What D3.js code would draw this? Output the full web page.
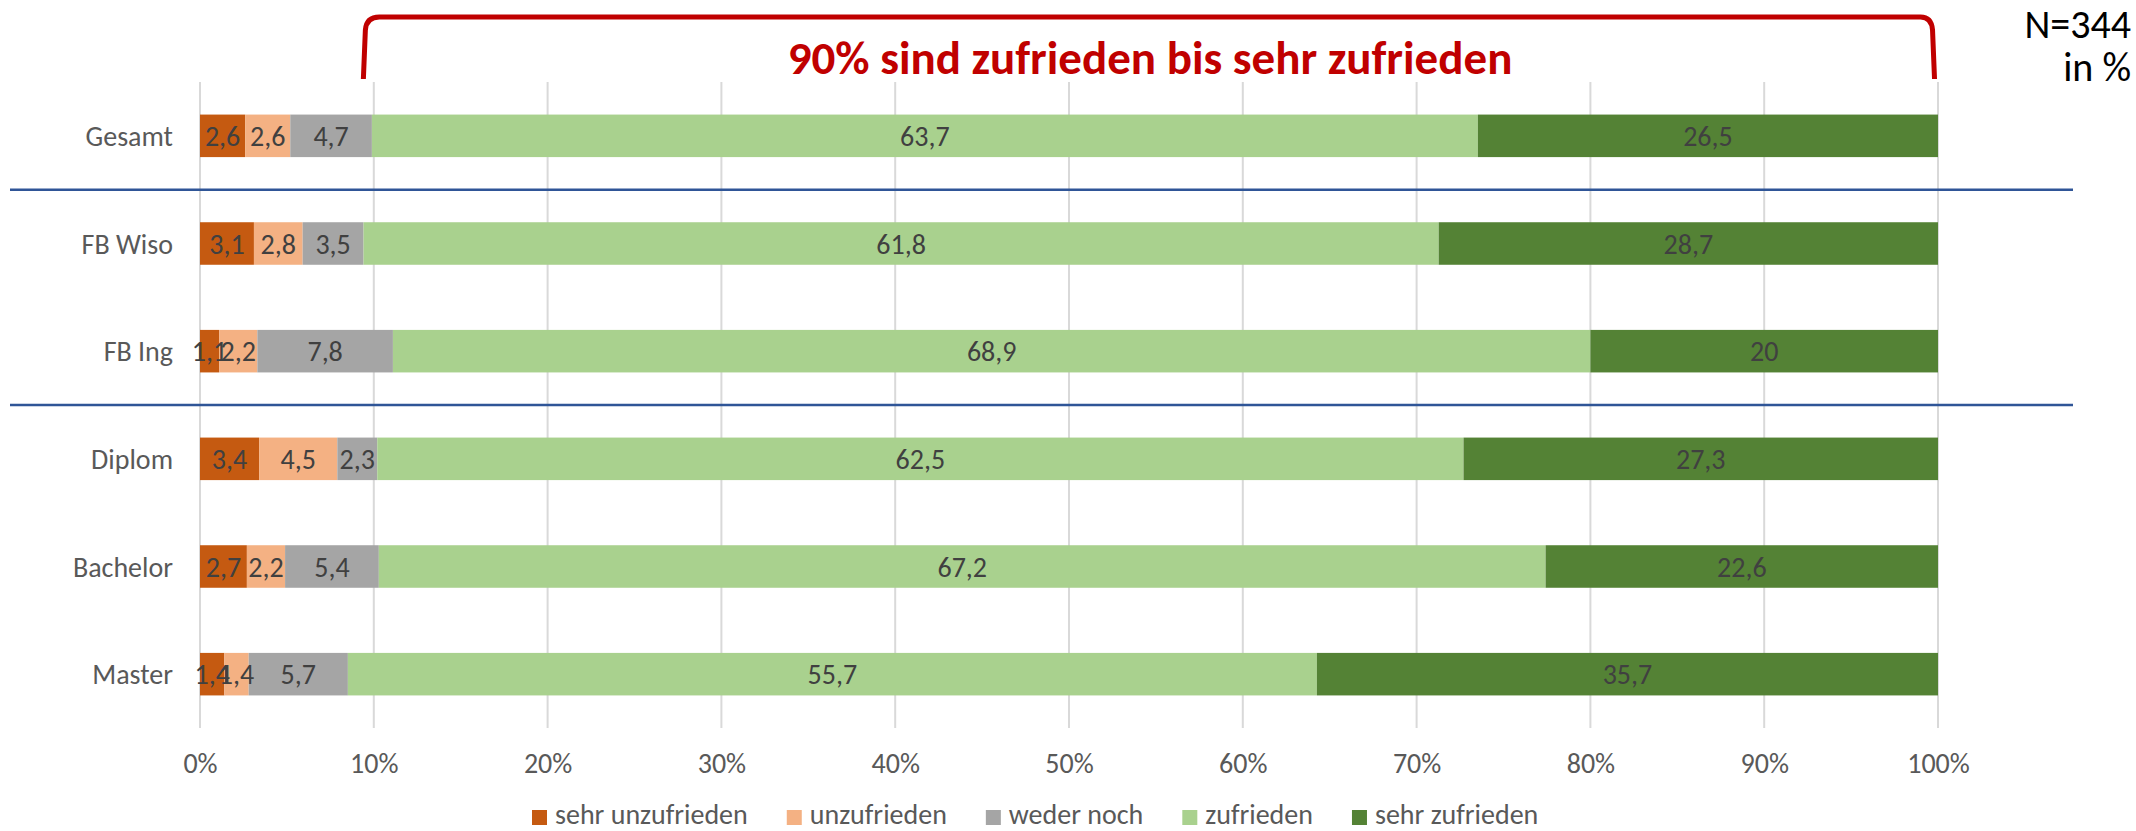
<!DOCTYPE html>
<html>
<head>
<meta charset="utf-8">
<script src="https://cdn.jsdelivr.net/npm/d3@7/dist/d3.min.js"></script>
<style>
  html, body { margin: 0; padding: 0; background: #fff; }
  svg { display: block; }
  text { font-family: Carlito, Lato, "Open Sans", sans-serif; }
</style>
</head>
<body>
<svg id="chart" width="2136" height="831"></svg>
<script>
const categories = ["Gesamt", "FB Wiso", "FB Ing", "Diplom", "Bachelor", "Master"];
const seriesNames = ["sehr unzufrieden", "unzufrieden", "weder noch", "zufrieden", "sehr zufrieden"];
const sehrUnzufrieden = [2.6, 3.1, 1.1, 3.4, 2.7, 1.4];
const unzufrieden     = [2.6, 2.8, 2.2, 4.5, 2.2, 1.4];
const wederNoch       = [4.7, 3.5, 7.8, 2.3, 5.4, 5.7];
const zufrieden       = [63.7, 61.8, 68.9, 62.5, 67.2, 55.7];
const sehrZufrieden   = [26.5, 28.7, 20, 27.3, 22.6, 35.7];
const tickValues = [0, 0.1, 0.2, 0.3, 0.4, 0.5, 0.6, 0.7, 0.8, 0.9, 1.0];
const separatorsAfter = ["Gesamt", "FB Ing"];
const titleText = "90% sind zufrieden bis sehr zufrieden";
const noteLines = ["N=344", "in %"];

const colors = ["#C55A11", "#F4B183", "#A5A5A5", "#A9D18E", "#548235"];
const seriesValues = [sehrUnzufrieden, unzufrieden, wederNoch, zufrieden, sehrZufrieden];

const rows = categories.map((c, i) => {
  const o = { cat: c };
  seriesNames.forEach((s, j) => o[s] = seriesValues[j][i]);
  return o;
});
const stacked = d3.stack().keys(seriesNames).offset(d3.stackOffsetExpand)(rows);

const svg = d3.select("#chart");
const x = d3.scaleLinear().domain([0, 1]).range([200, 1938]);
const y = d3.scaleBand().domain(categories).range([82, 728]).paddingInner(0.605).paddingOuter(0.3025);

// gridlines
svg.append("g").selectAll("line").data(tickValues).join("line")
  .attr("x1", d => x(d)).attr("x2", d => x(d))
  .attr("y1", 82).attr("y2", 728)
  .attr("stroke", "#d9d9d9").attr("stroke-width", 2);

// separator lines
separatorsAfter.forEach(c => {
  const i = categories.indexOf(c);
  const yy = (y(categories[i]) + y.bandwidth() + y(categories[i + 1])) / 2;
  svg.append("line").attr("x1", 10).attr("x2", 2073).attr("y1", yy).attr("y2", yy)
    .attr("stroke", "#2F5597").attr("stroke-width", 2.5);
});

// bars
const layers = svg.append("g").selectAll("g").data(stacked).join("g")
  .attr("fill", (d, i) => colors[i]);
layers.selectAll("rect").data(d => d).join("rect")
  .attr("x", d => x(d[0]))
  .attr("width", d => x(d[1]) - x(d[0]))
  .attr("y", d => y(d.data.cat))
  .attr("height", y.bandwidth());

// data labels
const fmt = v => String(v).replace(".", ",");
stacked.forEach((layer, j) => {
  svg.append("g").selectAll("text").data(layer).join("text")
    .attr("x", d => (x(d[0]) + x(d[1])) / 2)
    .attr("y", d => y(d.data.cat) + y.bandwidth() / 2 + 10)
    .attr("text-anchor", "middle")
    .attr("font-size", 28)
    .attr("fill", "#404040")
    .text(d => fmt(d.data[layer.key]));
});

// category labels
svg.append("g").selectAll("text").data(categories).join("text")
  .attr("x", 173)
  .attr("y", d => y(d) + y.bandwidth() / 2 + 10)
  .attr("text-anchor", "end")
  .attr("font-size", 28)
  .attr("fill", "#595959")
  .text(d => d);

// x axis tick labels
const xAxis = d3.axisBottom(x).tickValues(tickValues).tickFormat(d3.format(".0%")).tickSize(0).tickPadding(0);
const ax = svg.append("g").attr("transform", "translate(0,753)").call(xAxis);
ax.select(".domain").remove();
ax.selectAll("text").attr("font-size", 28).attr("fill", "#595959")
  .attr("font-family", "Carlito, Lato, sans-serif").attr("dy", "0.71em");

// legend
const leg = svg.append("g");
let lx = 532;
seriesNames.forEach((s, i) => {
  leg.append("rect").attr("x", lx).attr("y", 810).attr("width", 15).attr("height", 15).attr("fill", colors[i]);
  const t = leg.append("text").attr("x", lx + 23).attr("y", 824).attr("font-size", 28)
    .attr("fill", "#595959").text(s);
  lx += 23 + t.node().getComputedTextLength() + 39;
});

// bracket
const bx0 = x(0.094), bx1 = x(0.998);
svg.append("path")
  .attr("d", `M${bx0},79 L${bx0 + 2},30 Q${bx0 + 3},17 ${bx0 + 16},17 L${bx1 - 14},17 Q${bx1 - 3},17 ${bx1 - 2},30 L${bx1},79`)
  .attr("fill", "none").attr("stroke", "#C00000").attr("stroke-width", 5);

// title
svg.append("text").attr("x", 1150).attr("y", 74).attr("text-anchor", "middle")
  .attr("font-size", 47).attr("font-weight", "bold").attr("fill", "#C00000")
  .text(titleText);

// note
noteLines.forEach((t, i) => {
  svg.append("text").attr("x", 2131).attr("y", 38 + i * 43).attr("text-anchor", "end")
    .attr("font-size", 40).attr("fill", "#000").text(t);
});
</script>
</body>
</html>
